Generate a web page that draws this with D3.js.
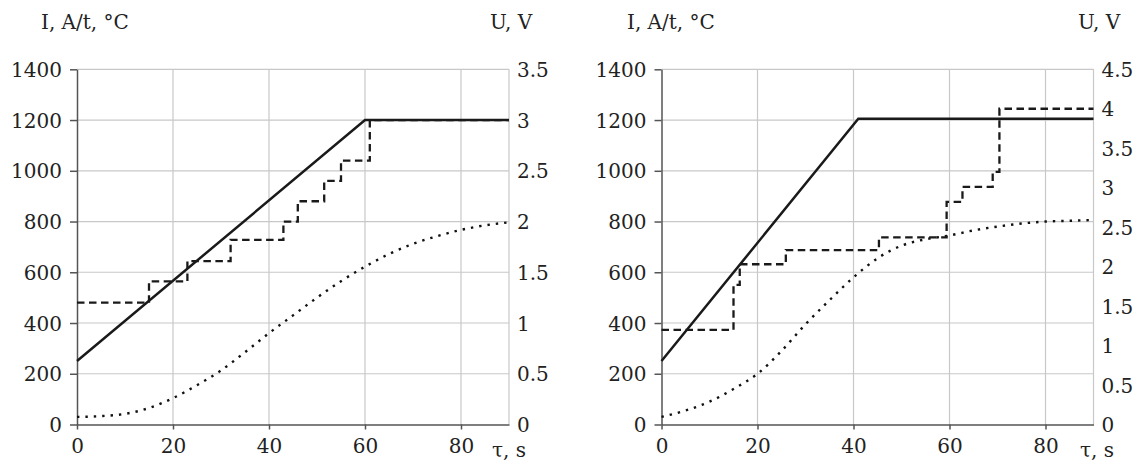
<!DOCTYPE html>
<html>
<head>
<meta charset="utf-8">
<script src="https://cdn.jsdelivr.net/npm/d3@7"></script>
<style>
  html, body { margin: 0; padding: 0; background: #fff; }
  svg { display: block; }
  text { font-family: "DejaVu Serif", serif; fill: #222; }
</style>
</head>
<body>
<svg id="chart" width="1139" height="464"></svg>
<script>
// ---------- data ----------
const xTicks = [0, 20, 40, 60, 80];
const yTicks = [0, 200, 400, 600, 800, 1000, 1200, 1400];
const leftUTicks = [0, 0.5, 1, 1.5, 2, 2.5, 3, 3.5];
const rightUTicks = [0, 0.5, 1, 1.5, 2, 2.5, 3, 3.5, 4, 4.5];

const leftAxisTitle = "I, A/t, °C";
const rightAxisTitle = "U, V";
const xAxisTitle = "τ, s";

// Left chart
const leftCurrentTau = [0, 60, 90];
const leftCurrent = [250, 1200, 1200];
const leftVoltTau = [0, 15, 23, 32, 43, 46, 51.5, 55, 61, 90];
const leftVolt = [1.2, 1.41, 1.61, 1.82, 2.0, 2.2, 2.4, 2.6, 3.0, 3.0];
const leftTempTau = [0, 5, 10, 15, 20, 25, 30, 35, 40, 45, 50, 55, 60, 65, 70, 75, 80, 85, 90];
const leftTemp = [30, 33, 42, 65, 104, 155, 213, 285, 360, 430, 500, 565, 622, 672, 712, 742, 767, 785, 797];

// Right chart
const rightCurrentTau = [0, 41, 90];
const rightCurrent = [250, 1205, 1205];
const rightVoltTau = [0, 15, 16.3, 25.9, 45.3, 59.4, 62.7, 69, 70.4, 90];
const rightVolt = [1.2, 1.77, 2.03, 2.21, 2.37, 2.82, 3.01, 3.2, 4.0, 4.0];
const rightTempTau = [0, 5, 10, 15, 20, 25, 30, 35, 40, 45, 50, 55, 60, 65, 70, 75, 80, 85, 90];
const rightTemp = [30, 55, 90, 140, 200, 290, 395, 490, 580, 655, 705, 730, 745, 765, 780, 792, 800, 803, 806];

// ---------- layout ----------
const plotW = 432, yTop = 69.3, yBot = 424.5;
const charts = [
  { x0: 77, uMax: 3.5, uTicks: leftUTicks, ctau: leftCurrentTau, c: leftCurrent,
    vtau: leftVoltTau, v: leftVolt, ttau: leftTempTau, t: leftTemp,
    titleX: 41, uTitleX: 490, tauX: 492 },
  { x0: 661.5, uMax: 4.5, uTicks: rightUTicks, ctau: rightCurrentTau, c: rightCurrent,
    vtau: rightVoltTau, v: rightVolt, ttau: rightTempTau, t: rightTemp,
    titleX: 627, uTitleX: 1078, tauX: 1080 }
];

const svg = d3.select("#chart");
const FS = 20;

charts.forEach(ch => {
  const x = d3.scaleLinear().domain([0, 90]).range([ch.x0, ch.x0 + plotW]);
  const y = d3.scaleLinear().domain([0, 1400]).range([yBot, yTop]);
  const u = d3.scaleLinear().domain([0, ch.uMax]).range([yBot, yTop]);
  const g = svg.append("g");

  // grid
  g.append("g").selectAll("line.h").data(yTicks.filter(d => d > 0)).join("line")
    .attr("x1", x(0)).attr("x2", x(90)).attr("y1", d => y(d)).attr("y2", d => y(d))
    .attr("stroke", "#c8c8c8").attr("stroke-width", 1.2);
  g.append("g").selectAll("line.v").data([20, 40, 60, 80, 90]).join("line")
    .attr("x1", d => x(d)).attr("x2", d => x(d)).attr("y1", yTop).attr("y2", yBot)
    .attr("stroke", "#c8c8c8").attr("stroke-width", 1.2);

  // left axis
  const ay = g.append("g").attr("transform", `translate(${x(0)},0)`)
    .call(d3.axisLeft(y).tickValues(yTicks).tickFormat(d => String(d))
      .tickSize(7).tickSizeOuter(0).tickPadding(8));
  ay.select(".domain").attr("stroke", "#555").attr("stroke-width", 1.5);
  ay.selectAll(".tick line").attr("stroke", "#555").attr("stroke-width", 1.5);
  ay.selectAll(".tick text").attr("font-family", "DejaVu Serif").attr("font-size", FS)
    .attr("fill", "#222").attr("dy", "0.36em");

  // bottom axis
  const ax = g.append("g").attr("transform", `translate(0,${yBot})`)
    .call(d3.axisBottom(x).tickValues(xTicks).tickFormat(d => String(d))
      .tickSize(5).tickSizeOuter(0));
  ax.select(".domain").attr("stroke", "#555").attr("stroke-width", 1.5);
  ax.selectAll(".tick line").attr("stroke", "#555").attr("stroke-width", 1.5);
  ax.selectAll(".tick text").attr("font-family", "DejaVu Serif").attr("font-size", FS)
    .attr("fill", "#222").attr("y", 28.5).attr("dy", 0);

  // right axis
  const au = g.append("g").attr("transform", `translate(${x(90)},0)`)
    .call(d3.axisRight(u).tickValues(ch.uTicks).tickFormat(d => String(d))
      .tickSize(0).tickPadding(8));
  au.select(".domain").remove();
  au.selectAll(".tick text").attr("font-family", "DejaVu Serif").attr("font-size", FS)
    .attr("fill", "#222").attr("dy", "0.36em");

  // series
  const tempLine = d3.line().x((d, i) => x(ch.ttau[i])).y(d => y(d)).curve(d3.curveMonotoneX);
  g.append("path").attr("d", tempLine(ch.t)).attr("fill", "none")
    .attr("stroke", "#111").attr("stroke-width", 2.4).attr("stroke-dasharray", "2.4,6");

  const voltLine = d3.line().x((d, i) => x(ch.vtau[i])).y(d => u(d)).curve(d3.curveStepAfter);
  g.append("path").attr("d", voltLine(ch.v)).attr("fill", "none")
    .attr("stroke", "#1a1a1a").attr("stroke-width", 2.3).attr("stroke-dasharray", "7.5,4.5");

  const curLine = d3.line().x((d, i) => x(ch.ctau[i])).y(d => y(d));
  g.append("path").attr("d", curLine(ch.c)).attr("fill", "none")
    .attr("stroke", "#1a1a1a").attr("stroke-width", 2.5);

  // titles
  g.append("text").attr("x", ch.titleX).attr("y", 29).attr("font-size", FS).text(leftAxisTitle);
  g.append("text").attr("x", ch.uTitleX).attr("y", 29).attr("font-size", FS).text(rightAxisTitle);
  g.append("text").attr("x", ch.tauX).attr("y", 457).attr("font-size", FS).text(xAxisTitle);
});
</script>
</body>
</html>
